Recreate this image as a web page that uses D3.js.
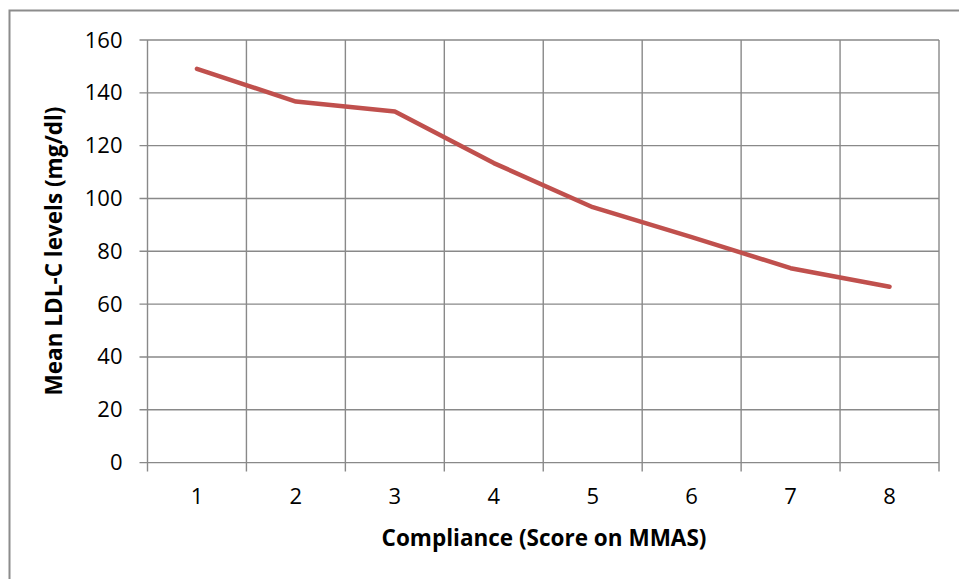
<!DOCTYPE html>
<html>
<head>
<meta charset="utf-8">
<style>
  body { margin: 0; background: #fff; }
  text { font-family: "Open Sans", sans-serif; fill: #000; }
</style>
</head>
<body>
<svg width="959" height="579"></svg>
<script src="https://d3js.org/d3.v7.min.js"></script>
<script>
  // data
  const scores = ['1', '2', '3', '4', '5', '6', '7', '8'];
  const ldl = [149.1, 136.7, 132.9, 113.4, 96.7, 85.4, 73.6, 66.6];
  const yTicks = [0, 20, 40, 60, 80, 100, 120, 140, 160];

  const svg = d3.select('svg');
  const margin = {top: 40, right: 20, bottom: 116, left: 147.5};
  const width = 939 - margin.left;
  const height = 462.6 - margin.top;
  const gridColor = '#898989';
  const fontFam = '"Open Sans", sans-serif';

  // outer frame
  svg.append('rect')
    .attr('x', 9.5).attr('y', 10.5)
    .attr('width', 1000).attr('height', 1000)
    .attr('fill', 'none').attr('stroke', '#8c8c8c').attr('stroke-width', 2);

  const chart = svg.append('g').attr('transform', 'translate(' + margin.left + ',' + margin.top + ')');

  const x = d3.scaleBand().domain(scores).range([0, width]);
  const y = d3.scaleLinear().domain([0, 160]).range([height, 0]);

  // gridlines
  chart.selectAll('.hgrid').data(yTicks).enter().append('line')
    .attr('x1', -8).attr('x2', width)
    .attr('y1', d => y(d)).attr('y2', d => y(d))
    .attr('stroke', gridColor).attr('stroke-width', 1.4);
  const bounds = scores.map(s => x(s)).concat([width]);
  chart.selectAll('.vgrid').data(bounds).enter().append('line')
    .attr('x1', d => d).attr('x2', d => d)
    .attr('y1', 0).attr('y2', height + 9)
    .attr('stroke', gridColor).attr('stroke-width', 1.4);

  // axes (labels only, lines drawn above)
  const yAxis = d3.axisLeft(y).tickValues(yTicks).tickSize(0).tickPadding(25);
  const gy = chart.append('g').call(yAxis);
  gy.select('.domain').remove();
  gy.attr('font-size', 22).attr('font-family', fontFam);

  const xAxis = d3.axisBottom(x).tickSize(0).tickPadding(26);
  const gx = chart.append('g').attr('transform', 'translate(0,' + height + ')').call(xAxis);
  gx.select('.domain').remove();
  gx.attr('font-size', 22).attr('font-family', fontFam);

  // line
  const line = d3.line().x((d, i) => x(scores[i]) + x.bandwidth() / 2).y(d => y(d));
  chart.append('path').datum(ldl)
    .attr('fill', 'none').attr('stroke', '#c0504d')
    .attr('stroke-width', 4.5).attr('stroke-linejoin', 'round').attr('stroke-linecap', 'round')
    .attr('d', line);

  // titles
  svg.append('text').text('Compliance (Score on MMAS)')
    .attr('x', 544).attr('y', 546).attr('text-anchor', 'middle')
    .attr('font-size', 22.5).attr('font-weight', 'bold');
  svg.append('text').text('Mean LDL-C levels (mg/dl)')
    .attr('transform', 'translate(62,251) rotate(-90)').attr('text-anchor', 'middle')
    .attr('font-size', 22.5).attr('font-weight', 'bold');
</script>
</body>
</html>
